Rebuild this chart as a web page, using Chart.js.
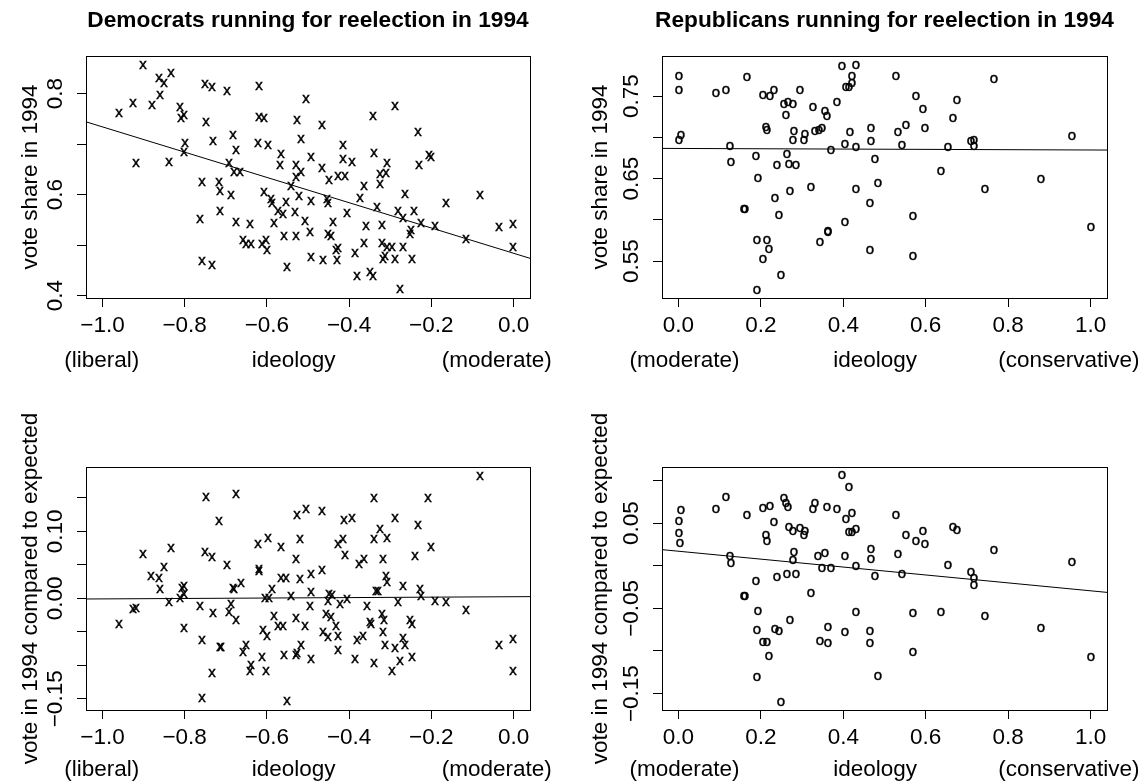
<!DOCTYPE html>
<html>
<head>
<meta charset="utf-8">
<script src="https://cdn.jsdelivr.net/npm/chart.js@4.4.1/dist/chart.umd.min.js"></script>
<style>
  html, body { margin: 0; padding: 0; background: #fff; }
  #wrap { position: relative; width: 1140px; height: 784px; }
  #wrap canvas { position: absolute; }
</style>
</head>
<body>
<div id="wrap">
  <canvas id="p1" width="570" height="392" style="left:0;top:0"></canvas>
  <canvas id="p2" width="570" height="392" style="left:570px;top:0"></canvas>
  <canvas id="p3" width="570" height="392" style="left:0;top:392px"></canvas>
  <canvas id="p4" width="570" height="392" style="left:570px;top:392px"></canvas>
</div>
<script>
const FONT = '"Liberation Sans", Arial, Helvetica, sans-serif';

// Democrats: ideology vs vote share 1994
const demIdeo = [-0.901,-0.834,-0.862,-0.851,-0.860,-0.925,-0.879,-0.959,-0.812,-0.802,-0.808,-0.918,-0.838,-0.800,-0.801,-0.751,-0.733,-0.698,-0.619,-0.506,
  -0.747,-0.731,-0.682,-0.674,-0.622,-0.597,-0.618,-0.607,-0.526,-0.467,-0.288,-0.341,-0.233,-0.518,-0.414,-0.565,-0.492,-0.339,-0.206,-0.201,
  -0.693,-0.681,-0.666,-0.567,-0.528,-0.518,-0.530,-0.465,-0.414,-0.394,-0.308,-0.229,-0.310,-0.325,-0.426,-0.411,-0.450,-0.325,-0.363,-0.541,
  -0.758,-0.717,-0.713,-0.688,-0.608,-0.589,-0.587,-0.521,-0.492,-0.553,-0.453,-0.452,-0.374,-0.263,-0.164,-0.081,-0.713,-0.763,-0.573,-0.561,
  -0.531,-0.582,-0.674,-0.640,-0.508,-0.406,-0.332,-0.282,-0.268,-0.242,-0.225,-0.190,-0.358,-0.319,-0.439,-0.250,-0.252,-0.116,-0.035,-0.001,
  -0.001,-0.658,-0.650,-0.638,-0.612,-0.602,-0.599,-0.559,-0.528,-0.496,-0.452,-0.445,-0.364,-0.433,-0.426,-0.320,-0.308,-0.296,-0.270,-0.385,
  -0.492,-0.464,-0.429,-0.318,-0.313,-0.288,-0.248,-0.758,-0.734,-0.550,-0.381,-0.348,-0.341,-0.276];
const demVote = [0.857,0.841,0.831,0.820,0.797,0.781,0.777,0.762,0.774,0.758,0.752,0.662,0.665,0.703,0.684,0.818,0.813,0.805,0.815,0.789,
  0.744,0.707,0.718,0.688,0.703,0.699,0.753,0.752,0.747,0.738,0.776,0.755,0.724,0.710,0.698,0.680,0.675,0.683,0.678,0.675,
  0.662,0.645,0.645,0.658,0.659,0.645,0.635,0.652,0.670,0.665,0.663,0.659,0.643,0.640,0.637,0.636,0.628,0.621,0.618,0.618,
  0.624,0.624,0.608,0.600,0.605,0.592,0.584,0.598,0.588,0.586,0.591,0.583,0.594,0.601,0.584,0.599,0.568,0.552,0.568,0.561,
  0.565,0.544,0.546,0.541,0.548,0.563,0.576,0.568,0.553,0.568,0.543,0.537,0.537,0.539,0.546,0.530,0.522,0.513,0.535,0.541,
  0.497,0.510,0.503,0.502,0.502,0.510,0.491,0.519,0.519,0.527,0.522,0.519,0.504,0.491,0.494,0.504,0.496,0.496,0.497,0.484,
  0.476,0.470,0.470,0.472,0.478,0.473,0.472,0.469,0.461,0.456,0.439,0.447,0.440,0.413];
const demFitX = [-1.04, 0.04];
const demFitY = [0.744, 0.474];

// Republicans: ideology vs vote share 1994
const repIdeo = [0.001,0.001,0.007,0.002,0.090,0.116,0.167,0.126,0.128,0.205,
  0.221,0.232,0.255,0.265,0.277,0.262,0.294,0.326,0.356,0.361,
  0.385,0.396,0.430,0.420,0.420,0.407,0.413,0.213,0.215,0.280,
  0.307,0.277,0.305,0.331,0.341,0.349,0.417,0.467,0.468,0.403,
  0.430,0.370,0.264,0.189,0.240,0.269,0.286,0.477,0.193,0.322,
  0.271,0.430,0.485,0.235,0.464,0.159,0.162,0.244,0.405,0.362,
  0.362,0.343,0.191,0.215,0.219,0.206,0.249,0.191,0.464,
  0.527,0.765,0.577,0.675,0.593,0.667,0.553,0.598,0.532,0.542,
  0.653,0.709,0.717,0.716,0.954,0.637,0.745,0.879,0.569,1.000,0.570];
const repVote = [0.775,0.758,0.703,0.697,0.754,0.758,0.773,0.690,0.670,0.752,
  0.750,0.758,0.741,0.743,0.741,0.727,0.757,0.737,0.732,0.726,
  0.743,0.787,0.788,0.775,0.766,0.761,0.761,0.713,0.709,0.708,
  0.704,0.697,0.697,0.708,0.709,0.711,0.707,0.712,0.696,0.692,
  0.688,0.685,0.680,0.677,0.667,0.668,0.666,0.674,0.651,0.640,
  0.635,0.638,0.645,0.627,0.621,0.613,0.613,0.606,0.597,0.587,
  0.585,0.573,0.576,0.576,0.565,0.552,0.533,0.515,0.563,
  0.775,0.771,0.750,0.746,0.734,0.724,0.715,0.712,0.707,0.691,
  0.689,0.696,0.697,0.690,0.702,0.659,0.638,0.650,0.605,0.591,0.556];
const repFitX = [-0.04, 1.04];
const repFitY = [0.6867, 0.6847];

// Democrats: ideology vs vote compared to expected
const demResIdeo = [-0.747,-0.674,-0.717,-0.526,-0.506,-0.901,-0.834,-0.751,-0.733,-0.622,
  -0.597,-0.565,-0.519,-0.530,-0.698,-0.851,-0.881,-0.863,-0.860,-0.806,
  -0.801,-0.801,-0.812,-0.838,-0.925,-0.918,-0.959,-0.801,-0.763,-0.732,
  -0.688,-0.692,-0.674,-0.682,-0.680,-0.664,-0.618,-0.618,-0.565,-0.553,
  -0.519,-0.492,-0.588,-0.604,-0.595,-0.541,-0.492,-0.496,-0.582,-0.572,
  -0.562,-0.528,-0.508,-0.609,-0.599,-0.757,-0.713,-0.711,-0.650,-0.657,
  -0.612,-0.559,-0.528,-0.527,-0.518,-0.492,-0.638,-0.640,-0.602,-0.734,
  -0.757,-0.551,
  -0.081,-0.340,-0.207,-0.466,-0.413,-0.394,-0.288,-0.233,-0.325,-0.339,
  -0.308,-0.426,-0.414,-0.201,-0.410,-0.375,-0.363,-0.318,-0.240,-0.466,
  -0.310,-0.308,-0.334,-0.329,-0.269,-0.228,-0.225,-0.450,-0.441,-0.452,
  -0.422,-0.405,-0.281,-0.190,-0.164,-0.116,-0.357,-0.456,-0.444,-0.433,
  -0.464,-0.452,-0.426,-0.348,-0.347,-0.320,-0.314,-0.252,-0.248,-0.318,
  -0.381,-0.366,-0.313,-0.288,-0.270,-0.264,-0.427,-0.385,-0.340,-0.296,
  -0.277,-0.248,-0.035,-0.001,-0.001];
const demRes = [0.151,0.156,0.116,0.125,0.133,0.066,0.075,0.069,0.061,0.081,
  0.090,0.077,0.089,0.059,0.049,0.046,0.034,0.030,0.014,0.016,
  0.019,0.007,0.001,-0.005,-0.016,-0.014,-0.039,-0.045,-0.012,-0.022,
  -0.009,-0.020,-0.033,0.016,0.014,0.023,0.044,0.041,0.031,0.031,
  0.029,0.037,0.014,0.000,0.001,0.003,0.009,-0.012,-0.027,-0.041,
  -0.041,-0.029,-0.041,-0.048,-0.056,-0.062,-0.073,-0.073,-0.069,-0.080,
  -0.088,-0.084,-0.084,-0.082,-0.069,-0.090,-0.099,-0.109,-0.108,-0.111,
  -0.149,-0.154,
  0.182,0.150,0.149,0.131,0.117,0.120,0.120,0.110,0.103,0.089,
  0.090,0.081,0.089,0.077,0.065,0.051,0.058,0.058,0.063,0.043,
  0.033,0.024,0.011,0.011,0.019,0.014,0.003,0.007,0.005,-0.004,
  -0.009,-0.001,-0.006,-0.004,-0.006,-0.017,-0.011,-0.024,-0.028,-0.042,
  -0.050,-0.057,-0.056,-0.036,-0.039,-0.024,-0.032,-0.033,-0.039,-0.051,
  -0.062,-0.056,-0.069,-0.074,-0.059,-0.069,-0.077,-0.091,-0.097,-0.108,
  -0.094,-0.088,-0.070,-0.061,-0.109];
const demResFitX = [-1.04, 0.04];
const demResFitY = [-0.001, 0.0025];

// Republicans: ideology vs vote compared to expected
const repResIdeo = [0.001,0.001,0.003,0.007,0.090,0.116,0.167,0.126,0.128,0.205,
  0.221,0.232,0.255,0.262,0.265,0.269,0.277,0.294,0.307,0.305,
  0.326,0.331,0.360,0.385,0.396,0.413,0.420,0.406,0.415,0.420,
  0.430,0.213,0.215,0.280,0.277,0.339,0.356,0.348,0.370,0.403,
  0.430,0.468,0.467,0.477,0.264,0.286,0.240,0.189,0.159,0.162,
  0.322,0.193,0.271,0.430,0.191,0.235,0.244,0.362,0.405,0.464,
  0.206,0.215,0.343,0.362,0.464,0.219,0.191,0.485,0.249,
  0.527,0.553,0.577,0.593,0.598,0.532,0.542,0.653,0.667,0.675,
  0.709,0.717,0.716,0.765,0.954,0.569,0.637,0.745,0.879,0.570,1.000];
const repRes = [0.052,0.038,0.027,0.065,0.067,0.081,0.059,0.011,0.003,0.068,
  0.070,0.051,0.079,0.073,0.069,0.045,0.041,0.044,0.041,0.036,
  0.066,0.074,0.069,0.067,0.106,0.092,0.062,0.055,0.040,0.039,
  0.043,0.036,0.029,0.016,0.007,0.011,0.015,-0.003,-0.003,0.011,
  0.000,0.020,0.008,-0.012,-0.010,-0.010,-0.013,-0.018,-0.036,-0.036,
  -0.032,-0.053,-0.064,-0.054,-0.075,-0.074,-0.076,-0.072,-0.078,-0.077,
  -0.089,-0.090,-0.088,-0.091,-0.091,-0.106,-0.130,-0.129,-0.160,
  0.060,0.036,0.029,0.041,0.025,0.014,-0.010,0.001,0.045,0.042,
  -0.007,-0.015,-0.023,0.018,0.004,-0.056,-0.054,-0.059,-0.073,-0.101,-0.107];
const repResFitX = [-0.04, 1.04];
const repResFitY = [0.0188, -0.0313];

// ticks
const demXTicks = [-1.0, -0.8, -0.6, -0.4, -0.2, 0.0];
const repXTicks = [0.0, 0.2, 0.4, 0.6, 0.8, 1.0];
const voteDemTicks = [0.4, 0.5, 0.6, 0.7, 0.8];
const voteDemLabels = [0.4, 0.6, 0.8];
const voteRepTicks = [0.55, 0.60, 0.65, 0.70, 0.75];
const voteRepLabels = [0.55, 0.65, 0.75];
const resDemTicks = [-0.15, -0.10, -0.05, 0.00, 0.05, 0.10, 0.15];
const resDemLabels = [-0.15, 0.00, 0.10];
const resRepTicks = [-0.15, -0.10, -0.05, 0.00, 0.05, 0.10];
const resRepLabels = [-0.15, -0.05, 0.05];

function fmt(v, d) {
    const s = Math.abs(v).toFixed(d);
    return (v < 0 && Number(s) !== 0 ? "\u2212" : "") + s;
}

// letter markers like R's pch = "x" / "o"
function glyph(ch) {
    const c = document.createElement("canvas");
    c.width = 16;
    c.height = 16;
    const g = c.getContext("2d");
    g.font = "15px " + FONT;
    g.textAlign = "center";
    g.fillStyle = "#000";
    g.strokeStyle = "#000";
    g.lineWidth = 0.45;
    g.fillText(ch, 8, 11.9);
    g.strokeText(ch, 8, 11.9);
    return c;
}

const xMark = glyph("x");
const oMark = glyph("o");

function decor(p) {
    return {
        id: "decor",
        beforeDatasetsDraw(chart) {
            chart.ctx.imageSmoothingEnabled = false;
        },
        afterDatasetsDraw(chart) {
            chart.ctx.imageSmoothingEnabled = true;
        },
        afterDraw(chart) {
            const ctx = chart.ctx;
            const a = chart.chartArea;
            const xs = chart.scales.x;
            const ys = chart.scales.y;
            ctx.save();
            ctx.strokeStyle = "#000";
            ctx.lineWidth = 1;
            ctx.strokeRect(Math.round(a.left) + 0.5, Math.round(a.top) + 0.5,
                Math.round(a.right - a.left), Math.round(a.bottom - a.top));

            ctx.fillStyle = "#000";
            ctx.textBaseline = "alphabetic";
            ctx.textAlign = "center";
            const cx = (a.left + a.right) / 2;

            if (p.title) {
                ctx.font = "bold 22.7px " + FONT;
                ctx.fillText(p.title, cx, 26.5);
            }

            ctx.font = "22.5px " + FONT;
            p.xTicks.forEach(v => ctx.fillText(fmt(v, 1), xs.getPixelForValue(v), a.bottom + 34));

            p.yLabels.forEach(v => {
                ctx.save();
                ctx.translate(a.left - 24, ys.getPixelForValue(v));
                ctx.rotate(-Math.PI / 2);
                ctx.fillText(fmt(v, p.yDec), 0, 0);
                ctx.restore();
            });

            ctx.save();
            ctx.translate(36.5, (a.top + a.bottom) / 2);
            ctx.rotate(-Math.PI / 2);
            ctx.fillText(p.ylab, 0, 0);
            ctx.restore();

            // x label: "(left)   ideology   (right)" as one centred line
            const sp = ctx.measureText(" ").width;
            const w = p.xlab.map(t => ctx.measureText(t).width);
            const total = w[0] + w[1] + w[2] + (p.gaps[0] + p.gaps[1]) * sp;
            let x0 = cx - total / 2;
            const yl = a.bottom + p.xlabGap;
            ctx.textAlign = "left";
            ctx.fillText(p.xlab[0], x0, yl);
            x0 += w[0] + p.gaps[0] * sp;
            ctx.fillText(p.xlab[1], x0, yl);
            x0 += w[1] + p.gaps[1] * sp;
            ctx.fillText(p.xlab[2], x0, yl);
            ctx.restore();
        }
    };
}

function makePanel(id, p) {
    const pts = p.xs.map((x, i) => ({ x: x, y: p.ys[i] }));
    const fit = p.fitX.map((x, i) => ({ x: x, y: p.fitY[i] }));
    return new Chart(document.getElementById(id), {
        type: "scatter",
        data: {
            datasets: [
                { data: pts, pointStyle: p.marker, pointRadius: 5, showLine: false },
                { data: fit, showLine: true, borderColor: "#000", borderWidth: 1, pointRadius: 0, fill: false }
            ]
        },
        options: {
            responsive: false,
            animation: false,
            devicePixelRatio: 1,
            events: [],
            layout: { padding: { top: p.box.t, right: 570 - p.box.r, left: 0, bottom: 0 } },
            plugins: { legend: { display: false }, tooltip: { enabled: false } },
            scales: {
                x: {
                    type: "linear",
                    min: p.xMin,
                    max: p.xMax,
                    afterBuildTicks: s => { s.ticks = p.xTicks.map(v => ({ value: v })); },
                    afterFit: s => { s.height = 392 - p.box.b; },
                    ticks: { display: false },
                    grid: { drawOnChartArea: false, color: "#000", tickLength: 9, lineWidth: 1 },
                    border: { display: false }
                },
                y: {
                    type: "linear",
                    min: p.yMin,
                    max: p.yMax,
                    afterBuildTicks: s => { s.ticks = p.yTicks.map(v => ({ value: v })); },
                    afterFit: s => { s.width = p.box.l; },
                    ticks: { display: false },
                    grid: { drawOnChartArea: false, color: "#000", tickLength: 9, lineWidth: 1 },
                    border: { display: false }
                }
            }
        },
        plugins: [decor(p)]
    });
}

makePanel("p1", {
    xs: demIdeo, ys: demVote, fitX: demFitX, fitY: demFitY, marker: xMark,
    box: { l: 86, t: 56, r: 530, b: 298 },
    xMin: -1.04, xMax: 0.04, yMin: 0.3955, yMax: 0.8742,
    xTicks: demXTicks, yTicks: voteDemTicks, yLabels: voteDemLabels, yDec: 1,
    title: "Democrats running for reelection in 1994",
    ylab: "vote share in 1994",
    xlab: ["(liberal)", "ideology", "(moderate)"], gaps: [18, 17], xlabGap: 69
});

makePanel("p2", {
    xs: repIdeo, ys: repVote, fitX: repFitX, fitY: repFitY, marker: oMark,
    box: { l: 92, t: 56, r: 537, b: 298 },
    xMin: -0.04, xMax: 1.04, yMin: 0.5052, yMax: 0.7988,
    xTicks: repXTicks, yTicks: voteRepTicks, yLabels: voteRepLabels, yDec: 2,
    title: "Republicans running for reelection in 1994",
    ylab: "vote share in 1994",
    xlab: ["(moderate)", "ideology", "(conservative)"], gaps: [15, 13], xlabGap: 69
});

makePanel("p3", {
    xs: demResIdeo, ys: demRes, fitX: demResFitX, fitY: demResFitY, marker: xMark,
    box: { l: 86, t: 75, r: 530, b: 318 },
    xMin: -1.04, xMax: 0.04, yMin: -0.1667, yMax: 0.196,
    xTicks: demXTicks, yTicks: resDemTicks, yLabels: resDemLabels, yDec: 2,
    title: null,
    ylab: "vote in 1994 compared to expected",
    xlab: ["(liberal)", "ideology", "(moderate)"], gaps: [18, 17], xlabGap: 66
});

makePanel("p4", {
    xs: repResIdeo, ys: repRes, fitX: repResFitX, fitY: repResFitY, marker: oMark,
    box: { l: 92, t: 75, r: 537, b: 318 },
    xMin: -0.04, xMax: 1.04, yMin: -0.1692, yMax: 0.1157,
    xTicks: repXTicks, yTicks: resRepTicks, yLabels: resRepLabels, yDec: 2,
    title: null,
    ylab: "vote in 1994 compared to expected",
    xlab: ["(moderate)", "ideology", "(conservative)"], gaps: [15, 13], xlabGap: 66
});
</script>
</body>
</html>
